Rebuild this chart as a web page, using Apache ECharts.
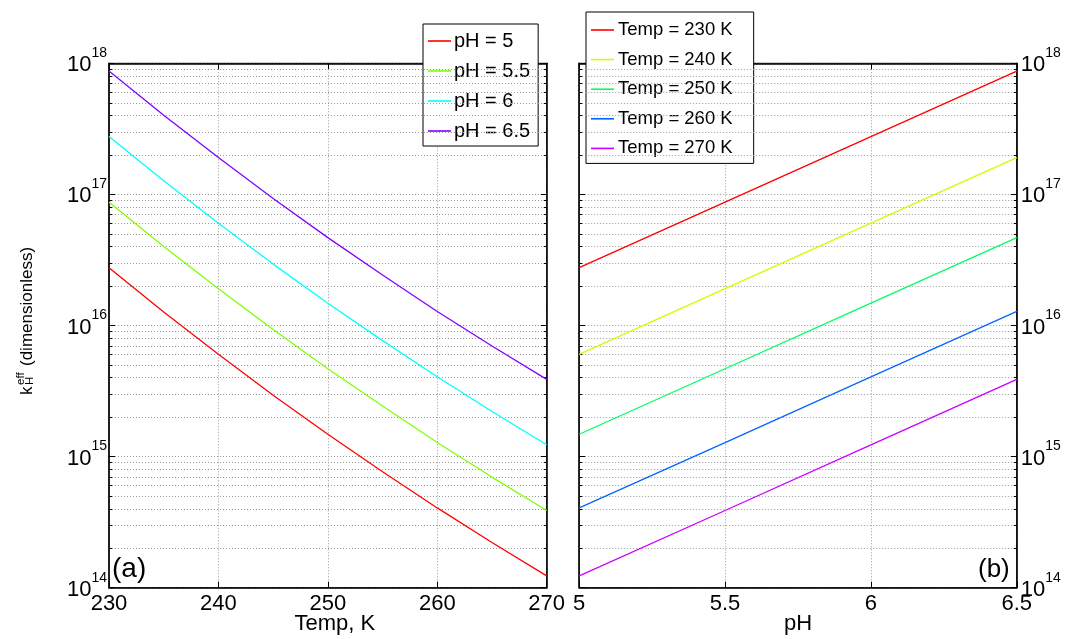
<!DOCTYPE html>
<html><head><meta charset="utf-8">
<script src="https://cdn.jsdelivr.net/npm/echarts@6/dist/echarts.min.js"></script>
<style>html,body{margin:0;padding:0;background:#fff}#c{width:1065px;height:639px}</style>
</head><body><div id="c"></div><script>
// ---- data ----
const temps = [230, 235, 240, 245, 250, 255, 260, 265, 270];
const kPH5   = [2.76e16, 1.27e16, 6.03e15, 2.94e15, 1.48e15, 7.67e14, 4.06e14, 2.21e14, 1.23e14];
const kPH55  = [8.73e16, 4.01e16, 1.91e16, 9.31e15, 4.68e15, 2.43e15, 1.28e15, 6.98e14, 3.88e14];
const kPH6   = [2.76e17, 1.27e17, 6.03e16, 2.94e16, 1.48e16, 7.67e15, 4.06e15, 2.21e15, 1.23e15];
const kPH65  = [8.73e17, 4.01e17, 1.91e17, 9.31e16, 4.68e16, 2.43e16, 1.28e16, 6.98e15, 3.88e15];

const phs = [5, 5.5, 6, 6.5];
const kT230 = [2.76e16, 8.73e16, 2.76e17, 8.73e17];
const kT240 = [6.03e15, 1.91e16, 6.03e16, 1.91e17];
const kT250 = [1.48e15, 4.68e15, 1.48e16, 4.68e16];
const kT260 = [4.06e14, 1.28e15, 4.06e15, 1.28e16];
const kT270 = [1.23e14, 3.88e14, 1.23e15, 3.88e15];

const namesA = ['pH = 5', 'pH = 5.5', 'pH = 6', 'pH = 6.5'];
const namesB = ['Temp = 230 K', 'Temp = 240 K', 'Temp = 250 K', 'Temp = 260 K', 'Temp = 270 K'];
const colorsA = ['#ff0000', '#80ff00', '#00ffff', '#8000ff'];
const colorsB = ['#ff0000', '#ccff00', '#00ff66', '#0066ff', '#cc00ff'];

const xTicksA = [230, 240, 250, 260, 270];
const xTicksB = [5, 5.5, 6, 6.5];
const yMin = 1e14, yMax = 1e18;
const yDecades = [14, 15, 16, 17, 18];

// ---- layout ----
const FONT = "'Liberation Sans', Arial, Helvetica, sans-serif";
const G1 = {left: 109, top: 63.3, width: 437.7, height: 524.4};
const G2 = {left: 579.2, top: 63.3, width: 437.6, height: 524.4};

const minorVals = [];
for (let d = 14; d < 18; d++) for (let m = 2; m <= 9; m++) minorVals.push(m * Math.pow(10, d));

const gridLine = {show: true, lineStyle: {color: '#9a9a9a', type: [1, 2], width: 1}};
const axLine = {show: true, onZero: false, lineStyle: {color: '#000', width: 1.5}};

function yLabelFmt(v) {
  const e = Math.round(Math.log10(v));
  return '{b|10}{s|' + e + '}';
}
const yRich = {
  b: {fontSize: 22, fontFamily: FONT, color: '#000', padding: [4, 0, 0, 0]},
  s: {fontSize: 14, fontFamily: FONT, color: '#000', padding: [0, 0, 20, 0]}
};

function xAxisMain(grid, min, max, interval, name, namePad) {
  return {type: 'value', gridIndex: grid, min: min, max: max, interval: interval, position: 'bottom',
    axisLine: axLine, axisTick: {show: true, inside: true, length: 6, lineStyle: {color: '#000'}},
    axisLabel: {fontSize: 22, fontFamily: FONT, color: '#000', margin: 5,
      formatter: v => String(v)},
    splitLine: gridLine, name: name, nameLocation: 'middle', nameGap: 25, nameMoveOverlap: false,
    nameTextStyle: {fontSize: 22, fontFamily: FONT, color: '#000', padding: namePad}};
}
function xAxisDummy(grid, min, max, interval) {
  return {type: 'value', gridIndex: grid, min: min, max: max, interval: interval, position: 'top',
    axisLine: axLine, axisTick: {show: true, inside: true, length: 6, lineStyle: {color: '#000'}},
    axisLabel: {show: false}, splitLine: {show: false}};
}
function yAxisMain(grid, pos) {
  return {type: 'log', logBase: 10, gridIndex: grid, min: yMin, max: yMax, position: pos,
    axisLine: axLine, axisTick: {show: true, inside: true, length: 6, lineStyle: {color: '#000'}},
    axisLabel: {formatter: yLabelFmt, rich: yRich, margin: pos === 'left' ? 2 : 4},
    splitLine: gridLine};
}
function yAxisDummy(grid, pos) {
  return {type: 'log', logBase: 10, gridIndex: grid, min: yMin, max: yMax, position: pos,
    axisLine: axLine, axisTick: {show: true, inside: true, length: 6, lineStyle: {color: '#000'}},
    axisLabel: {show: false}, splitLine: {show: false}};
}

function minorGrid(x0, x1) {
  return {silent: true, symbol: 'none', animation: false, label: {show: false},
    lineStyle: {color: '#9a9a9a', type: [1, 2], width: 1},
    data: minorVals.map(v => [{coord: [x0, v]}, {coord: [x1, v]}])};
}
function minorTicks(x0, x1, dx) {
  const d = [];
  minorVals.forEach(v => {
    d.push([{coord: [x0, v]}, {coord: [x0 + dx, v]}]);
    d.push([{coord: [x1 - dx, v]}, {coord: [x1, v]}]);
  });
  return {silent: true, symbol: 'none', animation: false, label: {show: false},
    lineStyle: {color: '#000', type: 'solid', width: 1}, data: d};
}

const seriesA = [kPH5, kPH55, kPH6, kPH65].map((arr, i) => ({
  name: namesA[i], type: 'line', xAxisIndex: 0, yAxisIndex: 0, showSymbol: false, symbol: 'none',
  color: colorsA[i], lineStyle: {width: 1.3, color: colorsA[i]},
  data: temps.map((t, j) => [t, arr[j]]), z: 5
}));
const seriesB = [kT230, kT240, kT250, kT260, kT270].map((arr, i) => ({
  name: namesB[i], type: 'line', xAxisIndex: 2, yAxisIndex: 2, showSymbol: false, symbol: 'none',
  color: colorsB[i], lineStyle: {width: 1.3, color: colorsB[i]},
  data: phs.map((p, j) => [p, arr[j]]), z: 5
}));
seriesA[0].markLine = minorGrid(230, 270);
seriesA[1].markLine = minorTicks(230, 270, 0.27);
seriesB[0].markLine = minorGrid(5, 6.5);
seriesB[1].markLine = minorTicks(5, 6.5, 0.0102);

const legendCommon = {orient: 'vertical', backgroundColor: '#fff', borderColor: '#000', borderWidth: 1,
  icon: 'rect', itemWidth: 23, itemHeight: 1.6, selectedMode: false, borderRadius: 0};

const gridCommon = {show: true, borderColor: '#000', borderWidth: 1, backgroundColor: 'transparent',
  containLabel: false, outerBoundsMode: 'none'};

const option = {
  animation: false,
  backgroundColor: '#fff',
  grid: [
    Object.assign({}, gridCommon, G1),
    Object.assign({}, gridCommon, G2)
  ],
  xAxis: [
    xAxisMain(0, 230, 270, 10, 'Temp, K', [0, 0, 0, 14]),
    xAxisDummy(0, 230, 270, 10),
    xAxisMain(1, 5, 6.5, 0.5, 'pH', [0, 0, 0, 0]),
    xAxisDummy(1, 5, 6.5, 0.5)
  ],
  yAxis: [
    yAxisMain(0, 'left'),
    yAxisDummy(0, 'right'),
    yAxisMain(1, 'right'),
    yAxisDummy(1, 'left')
  ],
  legend: [
    Object.assign({}, legendCommon, {data: namesA, left: 423, top: 24, itemGap: 10,
      padding: [7, 8, 5, 5],
      textStyle: {fontSize: 20, fontFamily: FONT, color: '#000', lineHeight: 20, padding: [0, 0, 0, -2]}}),
    Object.assign({}, legendCommon, {data: namesB, left: 586, top: 12, itemGap: 9.6,
      padding: [8, 21, 5, 5],
      textStyle: {fontSize: 18.5, fontFamily: FONT, color: '#000', lineHeight: 20, padding: [0, 0, 0, -1]}})
  ],
  graphic: [
    {type: 'text', left: 112, top: 555, style: {text: '(a)', fontSize: 28, fontFamily: FONT, fill: '#000'}, z: 20},
    {type: 'text', left: 978, top: 557, style: {text: '(b)', fontSize: 26, fontFamily: FONT, fill: '#000'}, z: 20},
    {type: 'group', x: 33, y: 395, rotation: Math.PI / 2, children: [
      {type: 'text', x: 0, y: -5.5, style: {text: 'k', fontSize: 17, fontFamily: FONT, fill: '#000', align: 'left', verticalAlign: 'middle'}},
      {type: 'text', x: 10, y: -12, style: {text: 'eff', fontSize: 11.5, fontFamily: FONT, fill: '#000', align: 'left', verticalAlign: 'middle'}},
      {type: 'text', x: 10, y: -3, style: {text: 'H', fontSize: 11.5, fontFamily: FONT, fill: '#000', align: 'left', verticalAlign: 'middle'}},
      {type: 'text', x: 29, y: -5.5, style: {text: '(dimensionless)', fontSize: 17, fontFamily: FONT, fill: '#000', align: 'left', verticalAlign: 'middle'}}
    ]}
  ],
  series: seriesA.concat(seriesB)
};

const chart = echarts.init(document.getElementById('c'), null, {renderer: 'canvas'});
chart.setOption(option);
</script></body></html>
